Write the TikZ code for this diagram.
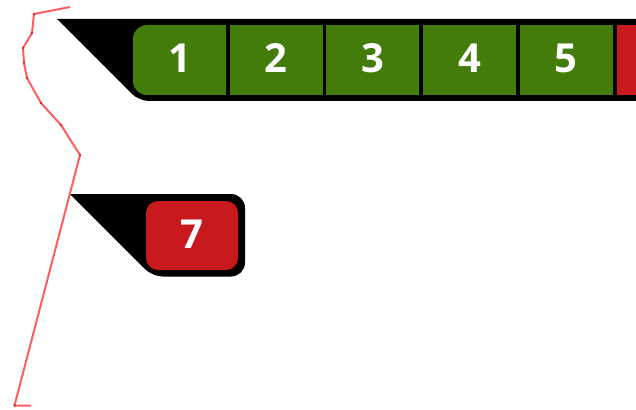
\documentclass[tikz,border=0pt]{standalone}
\usepackage{fontspec}
\setmainfont{Open Sans}
\usetikzlibrary{positioning}

\definecolor{cellgreen}{RGB}{67,124,10}
\definecolor{cellred}{RGB}{200,25,30}
\definecolor{traceline}{RGB}{255,95,95}

\begin{document}
\begin{tikzpicture}[
    x=1pt, y=-1pt,
    font=\fontsize{40}{40}\selectfont\bfseries,
    cell/.style={text=white, inner sep=0pt, minimum width=93pt, minimum height=70pt,
      text depth=3pt},
    tab/.style={fill=black},
  ]
    \useasboundingbox (0,0) rectangle (636,409);
    \clip (0,0) rectangle (636,409);

    % top bar with its pointer
    \fill[tab] (57,19) -- (700,19) -- (700,101)
      [rounded corners=10pt] -- (139,101) [sharp corners] -- cycle;
    \fill[cellgreen] (226,25) -- (226,95)
      [rounded corners=14pt] -- (133,95) -- (133,25) [sharp corners] -- cycle;
    \node[cell] (c1) at (179.5,60) {1};
    \foreach \i in {2,...,5}
      \node[cell, fill=cellgreen] (c\i) at ({179.5+96.7*(\i-1)},60) {\i};
    \node[cell, fill=cellred, right=3.7pt of c5] (c6) {};

    % lower tab
    \fill[tab] (70,194) [rounded corners=14pt] -- (245,194) -- (245,276.5)
      [rounded corners=10pt] -- (152.5,276.5) [sharp corners] -- cycle;
    \node[cell, fill=cellred, rounded corners=12pt, minimum width=92pt, minimum height=69pt]
      (c7) at (192,235.5) {7};

    % hand-drawn trace
    \draw[traceline, line width=2pt, line join=round]
      (70,7) -- (34,14) -- (32,33) -- (23,48) -- (24,63) -- (27,78) -- (41,103)
      -- (61,125) -- (80,155) -- (14.5,405.5) -- (31,405.5);
    \foreach \p in {(34,14),(32,33),(23,48),(24,63),(27,78),(41,103),(61,125),(80,155),(14.5,405.5)}
      \fill[red!80!black, opacity=0.6] \p circle (1.3pt);
  \end{tikzpicture}
\end{document}
